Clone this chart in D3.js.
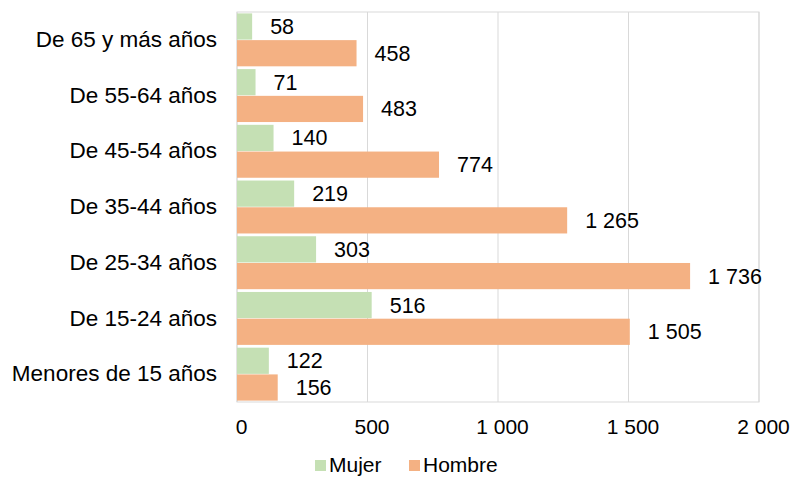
<!DOCTYPE html>
<html>
<head>
<meta charset="utf-8">
<script src="https://cdn.jsdelivr.net/npm/d3@7"></script>
<style>
  html, body { margin: 0; padding: 0; background: #fff; }
  svg { display: block; font-family: "Liberation Sans", Arial, sans-serif; }
</style>
</head>
<body>
<svg id="chart" width="790" height="477"></svg>
<script>
// Age groups, top to bottom
const categories = ["De 65 y más años", "De 55-64 años", "De 45-54 años", "De 35-44 años", "De 25-34 años", "De 15-24 años", "Menores de 15 años"];
const mujer  = [58, 71, 140, 219, 303, 516, 122];
const hombre = [458, 483, 774, 1265, 1736, 1505, 156];
const seriesNames = ["Mujer", "Hombre"];
const seriesColors = ["#C5E0B4", "#F4B183"];
const tickValues = [0, 500, 1000, 1500, 2000];

const svg = d3.select("#chart");
const plot = { left: 237, right: 759, top: 12, bottom: 402 };
const FONT = "Liberation Sans, Arial, sans-serif";

const fmt = v => d3.format(",")(v).replace(/,/g, " ");

const x = d3.scaleLinear().domain([0, 2000]).range([plot.left, plot.right]);
const y = d3.scaleBand().domain(categories).range([plot.top, plot.bottom])
  .paddingInner(0.05).paddingOuter(0.025);
const sub = d3.scaleBand().domain(seriesNames).range([0, y.bandwidth()]).paddingInner(0.02);

// gridlines
svg.append("g").selectAll("line").data(tickValues).join("line")
  .attr("x1", d => x(d)).attr("x2", d => x(d))
  .attr("y1", plot.top).attr("y2", plot.bottom)
  .attr("stroke", "#d9d9d9").attr("stroke-width", 1);

// plot frame
svg.append("rect")
  .attr("x", plot.left).attr("y", plot.top)
  .attr("width", plot.right - plot.left).attr("height", plot.bottom - plot.top)
  .attr("fill", "none").attr("stroke", "#d9d9d9");

const rows = categories.map((c, i) => ({ cat: c, values: [mujer[i], hombre[i]] }));

const groups = svg.append("g").selectAll("g").data(rows).join("g")
  .attr("transform", d => `translate(0,${y(d.cat)})`);

groups.selectAll("rect").data(d => d.values.map((v, j) => ({ v, s: seriesNames[j], c: seriesColors[j] })))
  .join("rect")
  .attr("x", x(0))
  .attr("y", d => sub(d.s))
  .attr("width", d => x(d.v) - x(0))
  .attr("height", sub.bandwidth())
  .attr("fill", d => d.c);

groups.selectAll("text").data(d => d.values.map((v, j) => ({ v, s: seriesNames[j] })))
  .join("text")
  .attr("x", d => x(d.v) + 18)
  .attr("y", d => sub(d.s) + sub.bandwidth() / 2 + 7.5)
  .attr("font-size", 21.5)
  .attr("fill", "#000")
  .text(d => fmt(d.v));

// value axis labels
const xAxis = svg.append("g").attr("transform", `translate(0,${plot.bottom})`)
  .call(d3.axisBottom(x).tickValues(tickValues).tickSize(0).tickPadding(17).tickFormat(fmt));
xAxis.select(".domain").remove();
xAxis.selectAll("text").attr("font-size", 21).attr("fill", "#000")
  .attr("font-family", FONT).attr("dx", 4);

// category axis labels
const yAxis = svg.append("g").attr("transform", `translate(${plot.left},0)`)
  .call(d3.axisLeft(y).tickSize(0).tickPadding(20));
yAxis.select(".domain").remove();
yAxis.selectAll("text").attr("font-size", 22.5).attr("fill", "#000")
  .attr("font-family", FONT);

// legend
const legendItems = [{ name: "Mujer", color: seriesColors[0], x: 315 }, { name: "Hombre", color: seriesColors[1], x: 409 }];
const legend = svg.append("g").selectAll("g").data(legendItems).join("g")
  .attr("transform", d => `translate(${d.x},460)`);
legend.append("rect").attr("width", 11).attr("height", 11).attr("fill", d => d.color);
legend.append("text").attr("x", 14).attr("y", 12).attr("font-size", 21).attr("fill", "#000")
  .text(d => d.name);
</script>
</body>
</html>
